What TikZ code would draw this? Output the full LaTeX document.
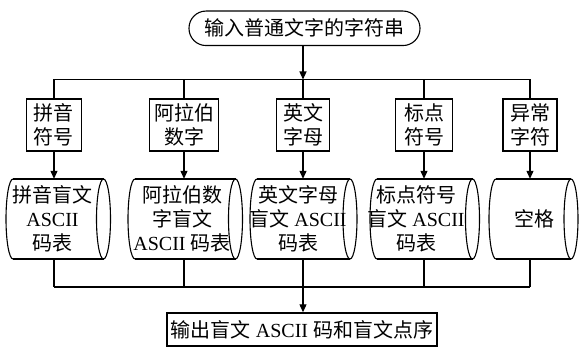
\documentclass[tikz,border=0pt]{standalone}
\usepackage{fontspec}
\setmainfont{Liberation Serif}
\newfontfamily\cjk{Noto Sans CJK SC}
\usetikzlibrary{arrows.meta}
\newcommand{\zh}[1]{{\cjk #1}}
\newcommand{\cylshape}[2]{%
  \draw[line] (#1,-179) -- (#2,-179) (#1,-259) -- (#2,-259);
  \draw[line] (#1,-179) arc[start angle=90,end angle=270,x radius=7,y radius=40];
  \draw[line] (#2,-219) ellipse[x radius=7,y radius=40];
}
\begin{document}
\begin{tikzpicture}[x=1pt,y=1pt,
  every node/.style={font=\fontsize{20}{24}\selectfont, inner sep=0pt, align=center},
  line/.style={line width=1.1pt},
  arr/.style={line width=1.1pt,-{Triangle[length=8pt,width=7pt]}},
  catbox/.style={draw, line width=1.3pt, minimum height=52pt},
  cyltext/.style={minimum height=80pt, minimum width=10pt}
]
\useasboundingbox (0,0) rectangle (579,-347);

% top
\node[draw, line width=1.1pt, rounded corners=17pt, minimum width=231pt, minimum height=34.5pt] (top) at (304.5,-28.3) {\zh{输入普通文字的字符串}};

% categories
\node[catbox, minimum width=55pt] (b1) at (54,-125) {\zh{拼音}\\\zh{符号}};
\node[catbox, minimum width=69pt] (b2) at (184,-125) {\zh{阿拉伯}\\\zh{数字}};
\node[catbox, minimum width=53pt] (b3) at (303,-125) {\zh{英文}\\\zh{字母}};
\node[catbox, minimum width=57pt] (b4) at (424,-125) {\zh{标点}\\\zh{符号}};
\node[catbox, minimum width=54pt] (b5) at (530,-125) {\zh{异常}\\\zh{字符}};

\coordinate (bus) at (303,-79.5);
\draw[arr] (top.south -| bus) -- (bus);
\draw[line] (b1.north |- bus) -- (b5.north |- bus);
\foreach \b in {b1,b2,b3,b4,b5} \draw[line] (\b.north |- bus) -- (\b.north);

% cylinders
\cylshape{13}{103.5}
\cylshape{135}{235.5}
\cylshape{257}{350}
\cylshape{377}{472.5}
\cylshape{496}{571}
\node[cyltext] (c1) at (52.5,-219) {\zh{拼音盲文}\\ASCII\\\zh{码表}};
\node[cyltext] (c2) at (182,-219) {\zh{阿拉伯数}\\\zh{字盲文}\\ASCII \zh{码表}};
\node[cyltext] (c3) at (298,-219) {\zh{英文字母}\\\zh{盲文} ASCII\\\zh{码表}};
\node[cyltext] (c4) at (416,-219) {\zh{标点符号}\\\zh{盲文} ASCII\\\zh{码表}};
\node[cyltext] (c5) at (534,-219) {\zh{空格}};

\draw[arr] (b1.south) -- (b1.south |- c1.north);
\draw[arr] (b2.south) -- (b2.south |- c2.north);
\draw[arr] (b3.south) -- (b3.south |- c3.north);
\draw[arr] (b4.south) -- (b4.south |- c4.north);
\draw[arr] (b5.south) -- (b5.south |- c5.north);

% bottom bus
\coordinate (bot) at (303,-287);
\draw[line] (b1 |- bot) -- (b5 |- bot);
\draw[line] (b1 |- c1.south) -- (b1 |- bot);
\draw[line] (b2 |- c2.south) -- (b2 |- bot);
\draw[line] (b4 |- c4.south) -- (b4 |- bot);
\draw[line] (b5 |- c5.south) -- (b5 |- bot);

% output
\node[draw, line width=1.4pt, minimum width=270pt, minimum height=33pt] (out) at (302,-329.5) {\zh{输出盲文} ASCII \zh{码和盲文点序}};
\draw[arr] (b3 |- c3.south) -- (b3 |- out.north);
\end{tikzpicture}
\end{document}
